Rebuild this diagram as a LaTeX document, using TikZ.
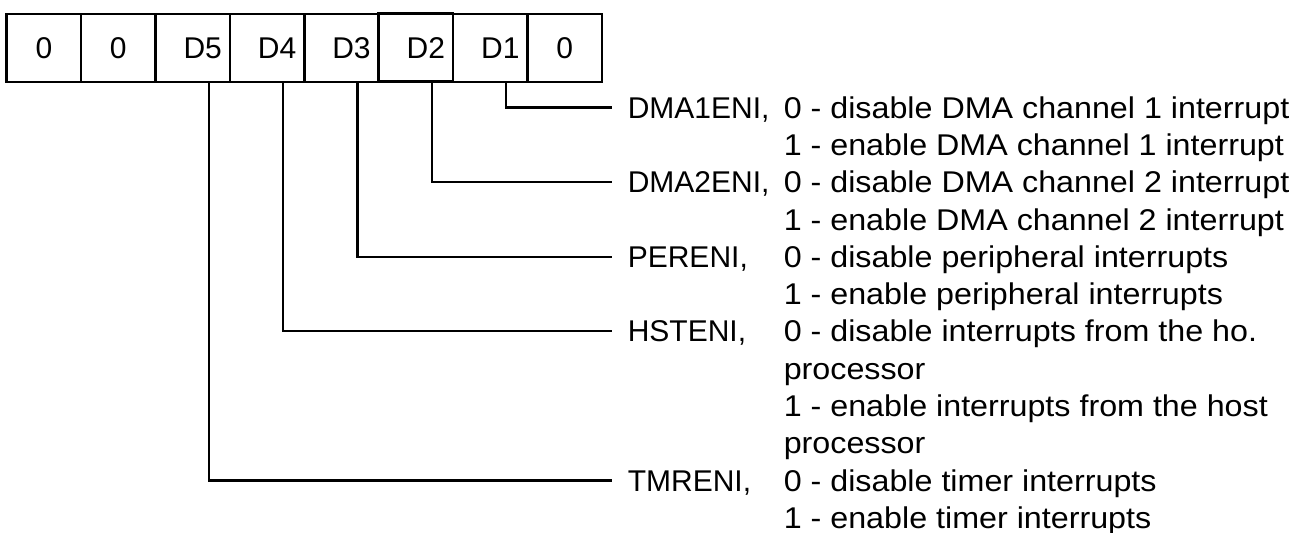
\documentclass[tikz,border=0pt]{standalone}
\usepackage{fontspec}
\setmainfont{Liberation Sans}
\newfontfamily\descfont{Liberation Sans}[FakeStretch=1.075]
\usetikzlibrary{matrix}
\newcommand\txtsize{\fontsize{15}{18}\selectfont}
\newcommand\bitname[1]{\hspace*{10pt}D#1}
\tikzstyle{bitcell}=[draw,line width=1.3pt,minimum width=37.2pt,minimum height=34pt,inner sep=0pt]
\tikzstyle{bitline}=[line width=1.1pt]
\tikzstyle{txtcell}=[inner sep=0pt,text height=13.74pt,text depth=3pt,anchor=west]

\begin{document}
\begin{tikzpicture}[x=0.5pt,y=-0.5pt,font=\txtsize]
	\useasboundingbox (0,0) rectangle (1294,533);
	\matrix [matrix of nodes,nodes={bitcell},column sep=-1.3pt,anchor=north west,inner sep=0pt] (reg) at (5,12) {
	  0 & 0 & \bitname5 & \bitname4 & \bitname3 & \bitname2 & \bitname1 & 0 \\ };
	\matrix [matrix of nodes,nodes={txtcell},row sep=1.91pt,anchor=north west,inner sep=0pt,
	  column 1/.style={nodes={text width=78pt}},
	  column 2/.style={nodes={font=\descfont\txtsize}}] (txt) at (627,90.3) {
	    DMA1ENI, & 0 - disable DMA channel 1 interrupt \\
	             & 1 - enable DMA channel 1 interrupt \\
	    DMA2ENI, & 0 - disable DMA channel 2 interrupt \\
	             & 1 - enable DMA channel 2 interrupt \\
	    PERENI,  & 0 - disable peripheral interrupts \\
	             & 1 - enable peripheral interrupts \\
	    HSTENI,  & 0 - disable interrupts from the ho. \\
	             & processor \\
	             & 1 - enable interrupts from the host \\
	             & processor \\
	    TMRENI,  & 0 - disable timer interrupts \\
	             & 1 - enable timer interrupts \\
	};
	\draw[bitline] ([xshift=8pt]reg-1-7.south) |- ([xshift=-7.5pt]txt-1-1.west);
	\draw[bitline] ([xshift=8pt]reg-1-6.south) |- ([xshift=-7.5pt]txt-3-1.west);
	\draw[bitline] ([xshift=8pt]reg-1-5.south) |- ([xshift=-7.5pt]txt-5-1.west);
	\draw[bitline] ([xshift=8pt]reg-1-4.south) |- ([xshift=-7.5pt]txt-7-1.west);
	\draw[bitline] ([xshift=8pt]reg-1-3.south) |- ([xshift=-7.5pt]txt-11-1.west);
\end{tikzpicture}
\end{document}
